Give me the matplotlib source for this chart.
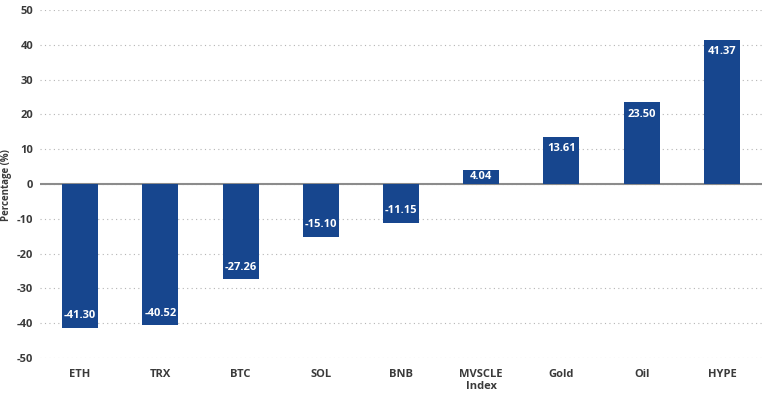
import matplotlib.pyplot as plt

categories = ["ETH", "TRX", "BTC", "SOL", "BNB", "MVSCLE\nIndex", "Gold", "Oil", "HYPE"]
values = [-41.30, -40.52, -27.26, -15.10, -11.15, 4.04, 13.61, 23.50, 41.37]

bar_color = "#17468e"
text_color = "#3a3a3a"

plt.rcParams["font.family"] = ["Open Sans", "DejaVu Sans"]
plt.rcParams["font.weight"] = "bold"
plt.rcParams["axes.unicode_minus"] = False

fig = plt.figure(figsize=(7.68, 3.98), dpi=100)
ax = fig.add_axes([40 / 768, 40 / 398, 722 / 768, 348 / 398])

x = range(len(categories))
ax.bar(x, values, width=0.45, color=bar_color, zorder=3)

# value labels inside the bar ends
for i, v in enumerate(values):
    if v >= 0:
        y = max(v - 3.4, v / 2)
    else:
        y = min(v + 3.4, v / 2)
    ax.text(i, y, "%.2f" % v, ha="center", va="center", color="white",
            fontsize=8, fontweight="bold", zorder=4)

ax.set_xlim(-0.5, len(categories) - 0.5)
ax.set_ylim(-50, 50)
ax.set_yticks(range(-50, 51, 10))
ax.set_xticks(list(x))
ax.set_xticklabels(categories, linespacing=1.1)
ax.tick_params(axis="both", length=0, labelsize=8, colors=text_color)
ax.tick_params(axis="y", pad=5)
ax.tick_params(axis="x", pad=8)

ax.grid(axis="y", linestyle=(0, (1, 3)), color="#b5b5b5", linewidth=0.8, zorder=0)
ax.axhline(0, color="#8c8c8c", linewidth=1.5, zorder=2)
for s in ax.spines.values():
    s.set_visible(False)

fig.text(1 / 768, (398 - 185) / 398, "Percentage (%)", rotation=90, ha="left", va="center",
         fontsize=7, fontweight="bold", color=text_color)

fig.savefig("out.png", dpi=100)
